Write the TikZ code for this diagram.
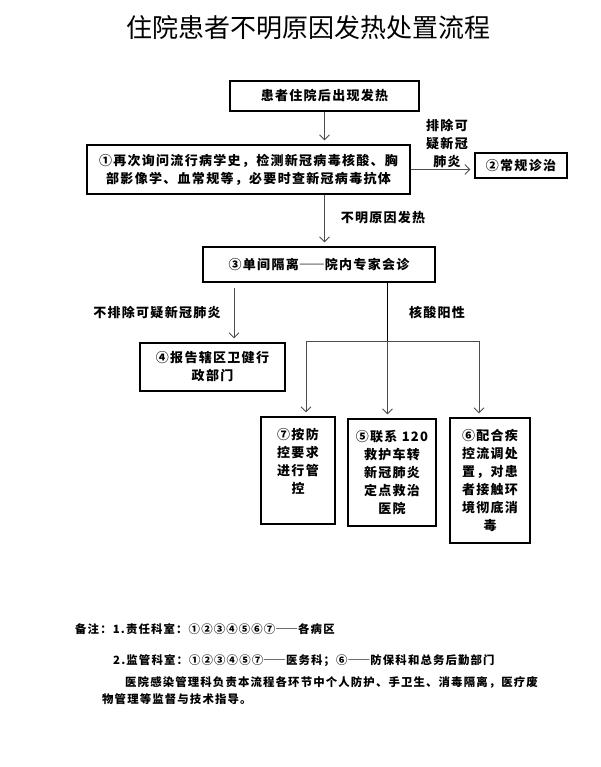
\documentclass[tikz,border=0pt]{standalone}
\usepackage{fontspec}
\setmainfont{Noto Sans CJK SC}
\newfontfamily\cjk[LetterSpace=10]{Noto Sans CJK SC}
\usetikzlibrary{arrows.meta}
\newcommand\boxfont{\cjk\bfseries\fontsize{13}{18}\selectfont}
\newcommand\notefont{\cjk\bfseries\fontsize{11.4}{17}\selectfont}
\newcommand\longdash{{\addfontfeature{RawFeature=+fwid}——}}
\tikzset{
  box/.style={draw, line width=1.1pt, inner sep=2pt, align=center, font=\boxfont},
  lbl/.style={align=center, inner sep=0pt, font=\fontsize{13}{17.5}\boxfont},
  arr/.style={draw=black!70, line width=0.9pt, shorten >=4pt, -{Straight Barb[length=5pt,width=10pt]}},
  note/.style={anchor=west, inner sep=0pt, font=\notefont},
}
\begin{document}
\begin{tikzpicture}[x=1pt, y=-1pt]
    \useasboundingbox[fill=white] (0,0) rectangle (600,767);
    % 标题
    \node[font=\fontsize{26}{30}\selectfont] (title) at (308,28) {住院患者不明原因发热处置流程};
    % 方框
    \node[box, minimum width=189, minimum height=30] (fever) at (324.5,96) {患者住院后出现发热};
    \node[box, minimum width=323, minimum height=49] (ask) at (248.5,169.5) {①再次询问流行病学史，检测新冠病毒核酸、胸\\部影像学、血常规等，必要时查新冠病毒抗体};
    \node[box, minimum width=92, minimum height=25] (routine) at (521,165.5) {②常规诊治};
    \node[box, minimum width=232, minimum height=35] (isolate) at (319,264.5) {③单间隔离\longdash 院内专家会诊};
    \node[box, minimum width=145, minimum height=48] (report) at (212.5,367) {④报告辖区卫健行\\政部门};
    \node[box, minimum width=74, minimum height=107] (control) at (298,470.5) {⑦按防\\控要求\\进行管\\控\\\phantom{控}};
    \node[box, minimum width=88, minimum height=107] (transfer) at (392,472.5) {⑤联系 120\\救护车转\\新冠肺炎\\定点救治\\医院};
    \node[box, minimum width=80, minimum height=125] (cdc) at (490,480.5) {⑥配合疾\\控流调处\\置，对患\\者接触环\\境彻底消\\毒};
    % 箭头上的文字
    \node[lbl] (exclude) at (447,143) {排除可\\疑新冠\\肺炎};
    \node[lbl] (unknown) at (383,218) {不明原因发热};
    \node[lbl] (suspect) at (157,312) {不排除可疑新冠肺炎};
    \node[lbl] (positive) at (437,313) {核酸阳性};
    % 分支点
    \coordinate (hl) at (306,341);
    \coordinate (hm) at (387.5,341);
    \coordinate (hr) at (479,341);
    % 箭头
    \draw[arr] (fever.south) -- (fever.south |- ask.north);
    \draw[arr] (ask.east) -- (ask.east -| routine.west);
    \draw[arr] (fever.south |- ask.south) -- (fever.south |- isolate.north);
    \draw[arr, shorten <=5pt] (234,0 |- isolate.south) -- (234,0 |- report.north);
    \draw[line width=0.9pt] (hm |- isolate.south) -- (hm);
    \draw[draw=black!70, line width=0.9pt] (hl) -- (hr);
    \draw[arr] (hl) -- (hl |- control.north);
    \draw[arr] (hm) -- (hm |- transfer.north);
    \draw[arr] (hr) -- (hr |- cdc.north);
    % 备注
    \node[note] (note1) at (75,629) {备注：1.责任科室：①②③④⑤⑥⑦\longdash 各病区};
    \node[note] (note2) at (113,661) {2.监管科室：①②③④⑤⑦\longdash 医务科；⑥\longdash 防保科和总务后勤部门};
    \node[note] (note3) at (125,682) {医院感染管理科负责本流程各环节中个人防护、手卫生、消毒隔离，医疗废};
    \node[note] (note4) at (102,699) {物管理等监督与技术指导。};
\end{tikzpicture}
\end{document}
